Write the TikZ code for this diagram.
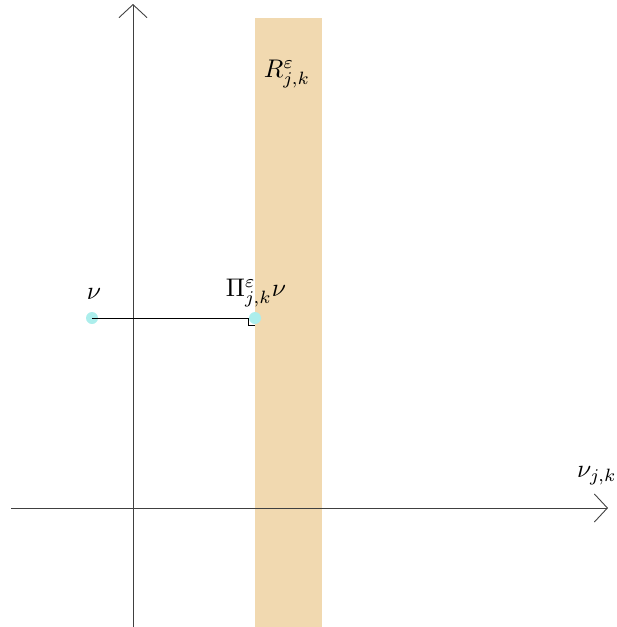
\documentclass[tikz,border=0pt]{standalone}
\usepackage{graphicx}
\usetikzlibrary{arrows.meta}
\definecolor{band}{RGB}{241,217,176}
\definecolor{dotc}{RGB}{172,238,236}
\newcommand{\mylab}[1]{\scalebox{2.55}{$#1$}}
\tikzset{
  axis/.style={draw=black!75, line width=0.9pt, -{Straight Barb[length=13pt,width=28pt,line width=0.9pt]}},
  pt/.style={circle, fill=dotc, minimum size=12pt, inner sep=0pt},
  lab/.style={inner sep=0pt}
}
\begin{document}
\begin{tikzpicture}[x=1pt,y=-1pt]
\useasboundingbox (0,0) rectangle (617,627);
\fill[band] (255,18) rectangle (322,627);
\coordinate (xs) at (11,508);
\coordinate (xe) at (608,508);
\coordinate (ys) at (133,627);
\coordinate (ye) at (133,4);
\draw[axis] (xs) -- (xe);
\draw[axis] (ys) -- (ye);
\node[pt] (nu) at (92,318) {};
\node[pt] (pi) at (255,318) {};
\draw[line width=0.7pt] (nu.center) -- (248,318) coordinate (c);
\draw[line width=0.6pt] (248,318) -- (248,325) -- (255,325);
\node[lab] (lnu) at (94,294) {\mylab{\nu}};
\node[lab] (lpi) at (256,293) {\mylab{\Pi^{\varepsilon}_{j,k}\nu}};
\node[lab] (lR) at (287,74) {\mylab{R^{\varepsilon}_{j,k}}};
\node[lab] (lx) at (597,476) {\mylab{\nu_{j,k}}};
\end{tikzpicture}
\end{document}
